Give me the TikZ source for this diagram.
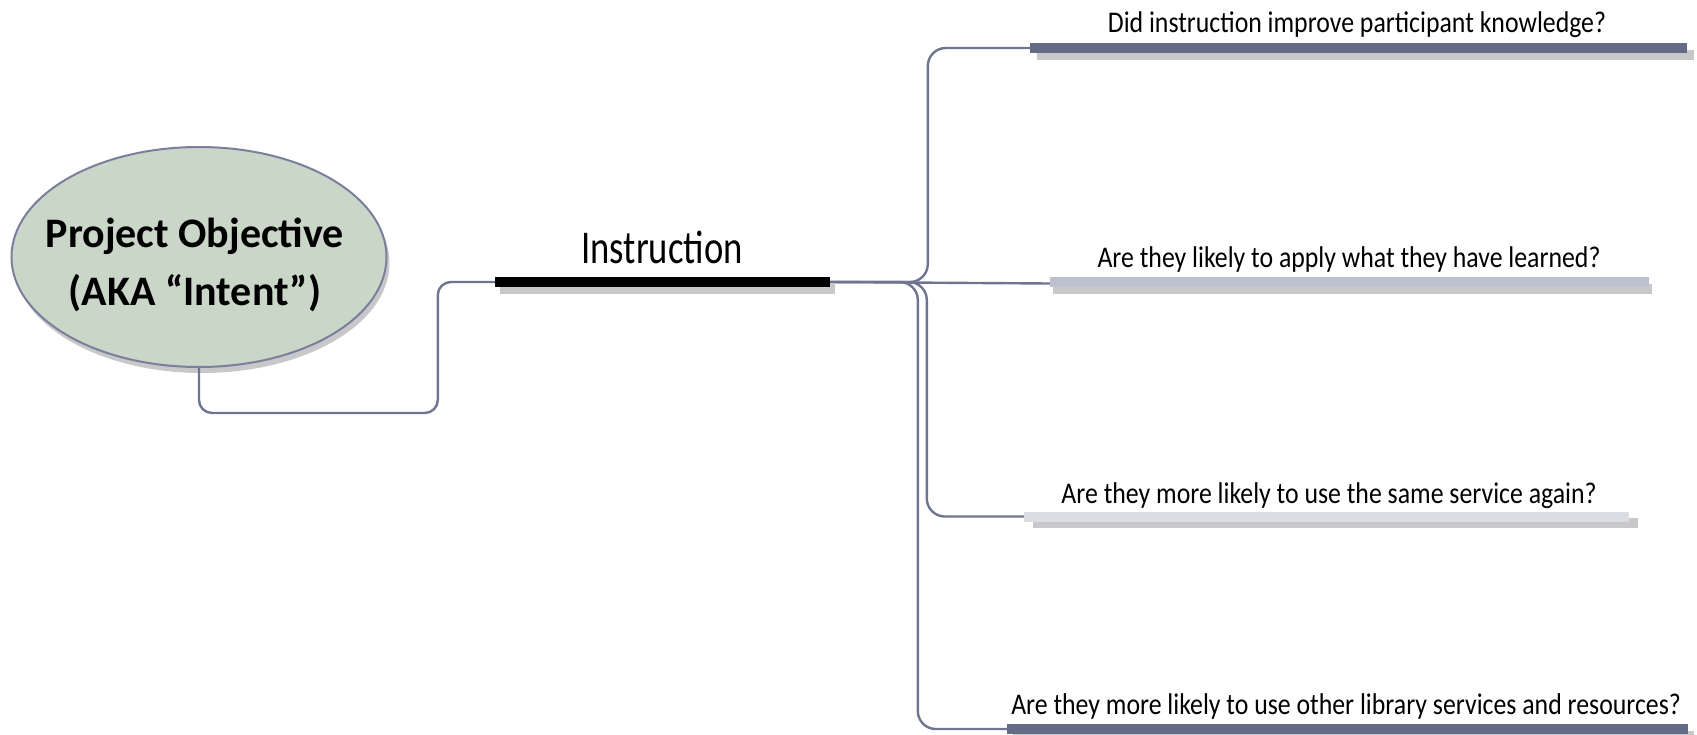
\documentclass[tikz,border=0pt]{standalone}
\usepackage{fontspec}
\setmainfont{Carlito}
\newfontfamily\qfont[FakeStretch=0.86]{Carlito}
\newfontfamily\ifont[FakeStretch=0.78]{Carlito}
\usetikzlibrary{shapes.geometric,shadows}
\definecolor{slate}{HTML}{646B87}
\definecolor{lav}{HTML}{BDC1CF}
\definecolor{pale}{HTML}{DCDCE3}
\definecolor{conncol}{HTML}{6F7491}
\definecolor{ellfill}{HTML}{CAD6C8}
\definecolor{ellborder}{HTML}{7A7F9C}
\definecolor{shadowgray}{HTML}{C8C8CA}
\tikzset{
  conn/.style={draw=conncol, line width=2.4pt, rounded corners=18pt},
  barbox/.style={rectangle, draw=none, inner sep=0pt, minimum height=10pt},
  qtext/.style={font=\qfont\fontsize{30}{36}\selectfont, anchor=base, inner sep=0pt},
}
\begin{document}
\begin{tikzpicture}[x=1pt,y=-1pt]
\useasboundingbox (0,0) rectangle (1697,734);
% central ellipse
\node[ellipse, fill=ellfill, draw=ellborder, line width=2pt,
      minimum width=375pt, minimum height=220pt,
      drop shadow={shadow xshift=3pt, shadow yshift=-6pt, fill=shadowgray, opacity=1}]
      (po) at (199,257) {};
\node[font=\bfseries\fontsize{42}{58}\selectfont, align=center, inner sep=0pt]
      (pot) at (195,265) {Project Objective\\(AKA “Intent”)};
% bars
\node[barbox, fill=black, minimum width=335pt,
      drop shadow={shadow xshift=5pt, shadow yshift=-7pt, fill=shadowgray, opacity=1}]
      (ib) at (662.5,282) {};
\node[barbox, fill=slate, minimum width=657pt,
      drop shadow={shadow xshift=7pt, shadow yshift=-7pt, fill=shadowgray, opacity=1}]
      (b1) at (1358.5,48) {};
\node[barbox, fill=lav, minimum width=599pt,
      drop shadow={shadow xshift=3pt, shadow yshift=-7pt, fill=shadowgray, opacity=1}]
      (b2) at (1349.5,282) {};
\node[barbox, fill=pale, minimum width=605pt,
      drop shadow={shadow xshift=9pt, shadow yshift=-6pt, fill=shadowgray, opacity=1}]
      (b3) at (1326.5,516.5) {};
\node[barbox, fill=slate, minimum width=681pt,
      drop shadow={shadow xshift=6pt, shadow yshift=-7pt, fill=shadowgray, opacity=1}]
      (b4) at (1347.5,729) {};
% texts
\node[font=\ifont\fontsize{47}{56}\selectfont, anchor=base, inner sep=0pt] (it) at (662,263) {Instruction};
\node[qtext] (q1) at (1357,32) {Did instruction improve participant knowledge?};
\node[qtext] (q2) at (1349,267) {Are they likely to apply what they have learned?};
\node[qtext] (q3) at (1329,503) {Are they more likely to use the same service again?};
\node[qtext] (q4) at (1346,714) {Are they more likely to use other library services and resources?};
% connectors
\draw[conn, rounded corners=13pt] (po.south) -- ++(0,45) -| ([xshift=-57pt]ib.west) -- (ib.west);
\draw[conn] (ib.east) -| ([xshift=-102pt]b1.west) -- (b1.west);
\draw[conn] (ib.east) -- ([yshift=-1.5pt]b2.west);
\draw[conn] (ib.east) -| ([xshift=-97pt]b3.west) -- (b3.west);
\draw[conn] (ib.east) -| ([xshift=-89pt]b4.west) -- (b4.west);
\end{tikzpicture}
\end{document}
